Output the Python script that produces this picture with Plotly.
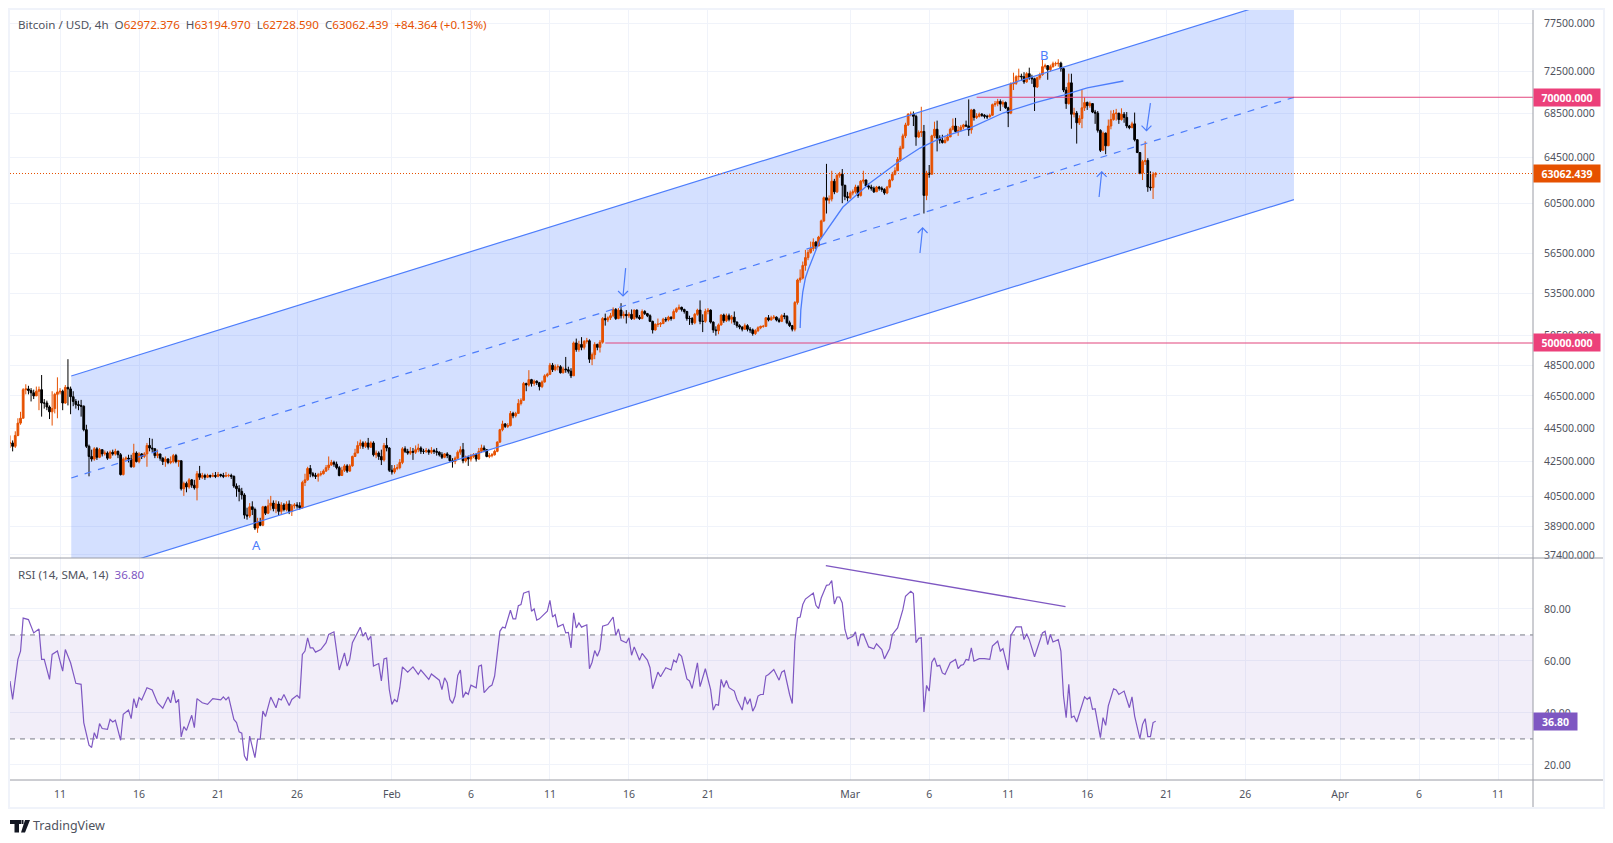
import math
import pandas as pd
import plotly.graph_objects as go

# 4h bars, one row per day. first bar is Jan 7 20:00, then Jan 8 00:00 onwards
bar_start = "2024-01-07 20:00"
closes = [43600,
    43400,44050,44800,45100,46900,46950, 46850,46700,46500,46800,46900,46050,
    46050,45800,45500,45700,46600,46750, 46800,46050,47050,46950,46450,46150,
    45950,45900,45850,44400,43400,42800, 42650,43250,42750,43200,42950,43000,
    42700,43050,42950,43100,42900,41750, 42650,42700,42650,42200,43000,42500,
    42950,42800,42950,43450,43300,43250, 42850,42950,42700,42500,42650,42450,
    42500,42850,42500,42550,40950,41250, 41050,41450,41150,41000,41800,41600,
    41700,41600,41700,41650,41700,41650, 41750,41700,41650,41700,41700,41650,
    41100,40950,40800,40600,39500,39450, 39950,39800,38800,39150,38950,39950,
    39600,40000,40150,39850,40100,39700, 40050,39800,40100,39700,40000,40050,
    40000,39900,41300,41450,42100,41800, 41700,41650,41750,41800,41950,42150,
    42300,42450,42350,42150,41700,42000, 42250,41950,42250,42800,43000,43450,
    43600,43400,43600,43350,43600,42900, 43000,42800,42600,43450,43300,42000,
    # feb
    41900,42100,42150,42450,43250,43100, 43000,43100,43050,43200,43300,43100,
    43100,43150,43050,43150,43100,43050, 42900,42750,42950,42850,42550,42500,
    42700,43050,43200,42550,42750,42650, 42800,42900,42650,43100,43300,43200,
    42800,42850,42900,43100,43650,44400, 44750,44600,44650,45400,45250,45400,
    46020,46220,47300,47200,47550,47300, 47450,47350,47100,47400,47800,47900,
    48500,48200,48400,48400,48000,48250, 48200,48100,47800,50000,49550,49900,
    49700,50100,50150,48900,49200,49900, 49700,50050,51700,51600,51750,51900,
    52350,51700,52300,51900,52000,51900, 52000,51700,52300,51800,51700,52200,
    52050,51900,51500,50900,51300,51300, 51350,51650,51600,51800,51700,52200,
    52400,52500,52350,52200,51700,51700, 51400,52000,52300,51500,51500,52200,
    52300,51450,50900,50850,51250,51950, 51550,51900,51650,51800,51450,51200,
    51100,50950,51200,50950,50900,50650, 50850,51050,51150,51150,51750,51600,
    51750,51800,51600,51500,51900,51850, 51400,51200,50950,52850,54500,54650,
    55600,56200,56600,56900,57400,57100, 57800,59100,61000,60800,60900,62400,
    61500,62900,63000,62050,61100,61000,
    # mar
    61400,61500,61900,61200,62400,62500, 62000,61900,61800,61500,61900,61800,
    61700,61400,61900,62500,63000,63300, 64300,65300,66400,67400,68400,68400,
    68200,66300,66700,66800,61200,63100, 63000,66400,67000,66200,66000,65800,
    66000,66300,67000,67300,66800,66900, 67200,67400,67300,66950,68800,68100,
    68200,68400,68300,68200,68150,68300, 69300,69400,69600,69350,69500,69000,
    68500,71300,71350,72000,72050,72000, 71500,72300,71900,71800,71000,71900,
    72200,73000,73100,72700,73000,73300, 73300,73350,72800,70700,69400,71400,
    68400,68500,67600,68000,69000,69500, 69200,69400,68600,68500,66900,65100,
    66650,65500,67300,67900,68450,68500, 67900,68400,68100,67300,67150,67500,
    66050,64900,63100,64100,64200,61900, 61850,62972.376,63062.439]

highs = [44050,
    43750,44300,45100,45500,47000,47250, 47150,47000,46900,47100,47100,47850,
    46300,46200,45900,46800,46700,47700, 47000,46900,47200,48900,47100,46800,
    46300,46200,46250,45900,44700,43500, 43200,43350,43350,43300,43200,43150,
    43100,43150,43200,43250,43150,43000, 42750,42800,42900,42900,43550,43100,
    43050,43000,43050,43600,43900,43850, 43300,43200,42950,42750,42800,42700,
    42800,42950,42950,42600,42550,41350, 41350,41550,41500,41450,41950,42250,
    41850,41800,41800,41750,41850,41900, 41900,41800,41850,41900,41800,41800,
    41700,41250,41150,41000,40700,39900, 40150,40250,39900,39350,39350,40000,
    40000,40350,40550,40300,40300,40250, 40200,40150,40250,40300,40100,40150,
    40200,40200,41400,41800,42200,42300, 41900,41850,41850,41950,42050,42300,
    42800,42600,42550,42500,42250,42200, 42350,42350,42350,42850,43250,43700,
    43800,43700,43700,43900,43700,43700, 43150,43100,43200,43600,43900,43350,
    42300,42300,42350,42650,43350,43400, 43250,43350,43300,43450,43550,43400,
    43250,43300,43250,43350,43250,43300, 43100,43050,43000,43050,42900,42700,
    42800,43150,43400,43600,42850,42850, 42950,43000,43000,43300,43500,43450,
    43200,43000,43000,43200,43700,44450, 44950,44800,44800,45550,45500,45500,
    46300,46350,47400,47350,48170,47600, 47550,47500,47400,47500,47900,48000,
    48650,48650,48550,48550,48500,48400, 49050,48400,48300,50100,50300,50150,
    50400,50200,50350,50250,49350,50050, 49950,50200,51800,52050,51850,52100,
    52500,52450,52450,52800,52200,52300, 52150,52350,52350,52350,51950,52350,
    52300,52100,52000,51550,51350,51700, 51450,51750,51800,51900,51850,52350,
    52500,52700,52550,52400,52250,51900, 51800,52100,52400,53000,52000,52400,
    52450,52350,51500,51150,51350,52000, 52050,52050,52050,51950,52200,51500,
    51300,51150,51350,51300,51100,51000, 50950,51150,51200,51250,51800,51950,
    51900,51950,51850,51750,52000,52100, 51950,51550,51250,52950,54600,55300,
    55900,56800,56800,57450,57700,57500, 57900,59200,61100,63900,61200,63300,
    62600,63050,63200,63450,62100,61500,
    61600,61700,62100,62050,62500,63300, 62550,62200,62100,61950,62000,62000,
    61950,61800,62000,62600,63200,63600, 64500,65500,66600,67600,68500,68650,
    68650,68350,66900,69100,67400,63300, 63800,66500,67700,67800,66450,66500,
    66350,66600,67150,68000,68050,67300, 67400,67500,67800,69800,68900,68900,
    68500,68550,68500,68400,68350,68450, 69400,69650,69850,69800,69700,69600,
    69100,71450,72400,72150,72800,72300, 72450,72450,72900,72200,71900,72000,
    72400,73700,73300,73150,73200,73500, 73500,73750,73500,72900,71000,72300,
    72300,69000,68700,68300,70800,70000, 69600,69600,69450,68800,68700,67000,
    66800,66700,67900,68750,68800,68900, 68500,68950,68600,68600,67400,67700,
    68550,66100,64900,64250,65900,64400, 63250,63200,63194.970]

lows = [43300,
    43100,43300,44000,44700,45100,46600, 46600,46150,46300,46500,45600,45200,
    45700,45600,45050,44650,45400,45100, 46600,45600,46000,45900,45350,45850,
    45700,45600,45200,44300,43300,41650, 42500,42550,42600,42700,42800,42850,
    42600,42700,42850,42850,42700,41700, 41700,42550,42450,42150,42150,42450,
    42400,42650,42700,42200,43100,43050, 42700,42700,42550,42300,42200,42350,
    42350,42400,42400,42200,40850,40550, 40750,40950,41000,40900,40300,41450,
    41500,41450,41550,41550,41600,41550, 41600,41600,41550,41600,41600,41500,
    41000,40500,40250,40350,39300,39250, 39350,39500,38700,38550,38900,38900,
    39500,39550,39750,39700,39600,39500, 39550,39700,39700,39550,39450,39850,
    39850,39800,39850,41100,41400,41600, 41600,41500,41350,41650,41750,41900,
    42000,42250,42200,42050,41650,41700, 41900,41850,41900,42200,42800,43000,
    43250,43250,43300,43200,43300,42800, 42700,42600,42300,42500,43100,41900,
    41750,41800,42000,42050,42350,43000, 42900,42900,42600,42950,43050,42950,
    42950,43000,42900,42950,42950,42850, 42800,42650,42700,42700,42500,42150,
    42350,42650,42900,42400,42450,42250, 42500,42700,42500,42600,43000,43050,
    42750,42700,42750,42850,43050,43600, 44300,44500,44500,44600,45100,45150,
    45400,45900,46200,46800,47100,47100, 47150,47200,46850,47000,47350,47700,
    47850,48050,48100,48150,47950,47950, 48000,47950,47650,47800,49400,49400,
    49500,49550,49950,48650,48500,48900, 49500,49350,49950,51200,51450,51600,
    51800,51600,51650,51700,51700,51350, 51750,51600,51600,51700,51600,51650,
    51950,51800,51450,50650,50850,51100, 51100,51300,51450,51500,51550,51650,
    52100,52300,52200,52050,51550,51250, 51250,51300,51900,51300,50750,51400,
    52000,51350,50700,50500,50600,51200, 51400,51450,51500,51350,51250,51050,
    50950,50800,50900,50800,50700,50500, 50550,50750,50950,51050,51100,51500,
    51550,51650,51500,51400,51450,51650, 51300,51100,50800,50800,52700,54300,
    54550,55200,56000,56500,56700,56850, 57100,57700,59000,59700,60500,60700,
    61300,61400,62700,60550,60800,60700,
    60900,61200,61350,61000,61100,62200, 61900,61700,61600,61400,61500,61600,
    61500,61250,61300,61800,62400,62900, 63300,64100,65200,66200,67300,68200,
    67300,65500,66200,66300,59700,60800, 62700,63000,66200,65000,65700,65700,
    65700,65900,66300,66900,66700,66400, 66800,67000,67200,66400,66600,67800,
    67950,68100,68150,68000,67950,68100, 68250,69100,69150,68700,69100,68900,
    67200,68400,70700,71200,71600,71600, 71300,71400,71700,71300,68700,70900,
    71700,72100,72800,71700,72500,72900, 73050,73000,72500,70500,68900,69300,
    67050,68100,65700,67400,67100,68700, 68800,69000,68500,67500,66700,64950,
    65300,64750,65500,67000,67800,67800, 67500,67800,67600,67100,67000,67100,
    65900,64850,63000,62500,63800,61500, 61600,60900,62728.590]

# rsi vertices as bar number, value
rsi_bars = [0,1,3,4,5,7,9,11,12,13,15,16,18,20,21,23,25,27,28,30,31,32,33,34,35,37,38,39,40,42,43,45,46,47,48,49,50,52,54,56,58,60,61,62,63,64,65,66,67,69,70,71,73,75,77,80,81,82,83,85,86,87,88,89,90,91,93,94,95,96,97,99,101,102,103,104,106,107,109,110,111,112,113,114,115,116,118,120,121,123,125,127,128,129,130,133,134,135,136,137,138,140,141,142,143,144,145,146,147,148,149,151,153,155,156,159,160,163,164,165,166,167,168,169,170,171,172,173,174,175,177,178,179,180,182,183,184,186,187,188,190,191,192,193,194,195,197,198,199,200,201,204,205,206,207,208,
    210,211,212,213,214,215,216,217,219,220,221,222,223,224,225,227,229,230,231,232,234,235,236,237,239,240,242,243,244,246,247,249,251,252,253,254,255,257,258,259,261,262,264,266,267,268,269,270,271,272,273,275,276,278,279,280,281,282,283,284,285,286,287,288,290,292,293,294,296,297,298,299,300,301,302,305,306,307,308,310,311,312,313,314,315,316,317,318,320,321,322,323,324,326,328,329,331,332,334,335,337,339,340,342,343,344,345,346,347,348,349,350,351,352,353,354,355,357,359,360,361,362,363,364,365,366,368,370,372,373,375,376,377,379,380,382,384,385,386,387,389,390,392,393,394,395,396,398,399,400,401,402,403,404,405,408,409,410,411,412,414,415,416,417,419,420,421,423,425,426,427,429,430,431,432,433,434,435]
rsi_vals = [52.3,45.2,60.6,63.8,76.5,75.9,70.8,72.3,60.6,60.6,52.9,62.5,63.8,56.1,64.4,59.3,51.4,51,36.3,27.6,26.7,32.4,30.1,35.9,34,33.7,37.5,36.5,37.2,29.5,39.5,41.1,37.8,45.5,42,45.9,45,49.7,48.8,43.9,41.8,46.1,43.9,48.7,43.9,45.2,30.8,34.7,33.3,39.1,34.3,45.5,43.9,43.3,45.5,45,46.2,45,46.2,37.5,36.3,32.7,32.2,23.5,21.6,31.1,22.8,29.9,29.9,40.7,38.6,46.1,42,45.5,45,47.1,42.9,45.2,46.8,45.6,62.5,63.8,68.9,65,65,63.4,64.4,67,70.2,71.2,56.5,63.1,58,60.6,67,73,69.5,71,68,69.5,58,59,52.3,60.8,61.1,49,43.3,45.2,44.2,49.7,57.7,55.7,57.7,54.8,56.5,52.9,55,52.6,49,53.5,51.6,45.2,43.7,46.5,54.4,56.5,45.9,48,47.1,50.7,49.7,58,58.4,47.8,50.1,50.7,54.2,71.4,73,72.7,79.5,76.2,76.2,81.3,81.7,86.1,86.8,79.1,80,75.7,76.2,79.1,83.3,76.9,77.8,73.1,
    74.1,70.8,71,65,78.5,72.7,74.6,73,73.9,57,59.5,64,61.8,64.4,73.4,74,76.9,69.8,72.3,67.9,67,68.9,62.2,65.4,60.3,62.9,60.3,57.4,49.3,55.7,53.9,57.4,56.5,60.3,59.5,62.7,61.8,53.1,52.3,49.4,59.3,50.1,57,49.1,41.1,43.3,43,52.9,49.9,52.5,49.7,48.4,45.2,41.1,46.2,43.3,45.5,40.7,42.7,46.5,47.1,47.1,54.2,54.8,56.7,52.6,55.7,56.3,47.1,43.6,67.6,76.5,76.9,81.7,83.8,86.1,81.4,80.1,84.2,89.1,89.3,90.9,81.9,84.6,84.6,82.3,72.1,68.5,69.5,71.2,65.7,70.2,70.4,65.4,64.7,66.6,64.4,60.8,64.8,70.2,72.7,79.7,84.9,86.8,85.9,67,68.7,68.9,40.4,50.6,48.4,59.5,61.2,58,58.3,55.4,54.8,59.3,60.6,57,58.3,58.6,60.6,60.3,65,59.9,60.9,60.9,60.6,65.7,67.6,63.8,64.7,56.5,69.8,73.1,73.1,68.2,70.5,68.2,61.6,64.4,70.8,71.4,66.3,70.2,67.3,68.2,63.8,46.5,38.2,51,38.2,38.8,36.5,46.2,45.2,46.2,41.4,41.6,30.5,38.2,35.2,42.7,49.3,48.8,47.1,48.4,42,46.2,38.8,30.1,35.6,37.8,30.9,30.9,36.3,36.8]

price_ticks = [77500,72500,68500,64500,60500,56500,53500,50500,48500,46500,44500,42500,40500,38900,37400]
rsi_ticks = [80,60,40,20]
x_ticks = ["2024-01-11","2024-01-16","2024-01-21","2024-01-26","2024-02-01","2024-02-06","2024-02-11","2024-02-16","2024-02-21","2024-03-01","2024-03-06","2024-03-11","2024-03-16","2024-03-21","2024-03-26","2024-04-01","2024-04-06","2024-04-11"]
x_labels = ["11","16","21","26","Feb","6","11","16","21","Mar","6","11","16","21","26","Apr","6","11"]

# drawings
channel_x = ["2024-01-11 17:00","2024-03-29 02:00"]
channel_top = [47790,80475]
channel_mid = [41557,70000]
channel_bot = [36137,60850]
arc_x = ["2024-02-26 20:00","2024-02-26 21:00","2024-02-27 00:00","2024-02-27 04:00","2024-02-27 08:00","2024-02-28 02:00","2024-02-29 13:00","2024-03-02 06:00","2024-03-03 23:00","2024-03-05 10:00","2024-03-06 21:00","2024-03-08 14:00","2024-03-10 16:00","2024-03-12 20:00","2024-03-14 12:00","2024-03-16 00:00","2024-03-18 07:00"]
arc_y = [51030,52300,53610,54650,55250,57570,60230,62250,63980,65300,66300,67110,68510,69550,70220,70900,71580]
arrows = [("2024-02-15 19:00",55400,"2024-02-15 15:00",53320),
          ("2024-03-05 10:00",56560,"2024-03-05 14:00",58530),
          ("2024-03-16 18:00",61060,"2024-03-16 22:00",63210),
          ("2024-03-20 00:00",69450,"2024-03-19 18:00",66870)]
rsi_trend_x = ["2024-02-28 11:00","2024-03-14 15:00"]
rsi_trend_y = [96.7,80.9]

last_close = 63062.439
x0, x1 = "2024-01-07 20:00", "2024-04-13 05:00"
orange = "#e65100"
blue = "#4d7dfb"
pink = "#e2447d"
purple = "#7e57c2"
text_col = "#50535e"

bars = pd.date_range(bar_start, periods=len(closes), freq="4h")
opens = [closes[0]] + closes[:-1]
highs = [max(h, o, c) for h, o, c in zip(highs, opens, closes)]
lows = [min(l, o, c) for l, o, c in zip(lows, opens, closes)]

fig = go.Figure()

# channel fill sits on the base axis so the candles stay on top of it
fig.add_scatter(x=[channel_x[0], channel_x[1], channel_x[1], channel_x[0], channel_x[0]],
    y=[channel_top[0], channel_top[1], channel_bot[1], channel_bot[0], channel_top[0]],
    mode="lines", line=dict(width=0), fill="toself", fillcolor="rgba(41,98,255,0.2)",
    yaxis="y", hoverinfo="skip")

fig.add_candlestick(x=bars, open=opens, high=highs, low=lows, close=closes, yaxis="y3",
    increasing=dict(line=dict(color=orange, width=1), fillcolor=orange),
    decreasing=dict(line=dict(color="#000000", width=1), fillcolor="#000000"))

def draw(x, y, color=blue, width=1.2, dash="solid", yaxis="y4"):
    fig.add_scatter(x=x, y=y, mode="lines", line=dict(color=color, width=width, dash=dash),
        yaxis=yaxis, hoverinfo="skip")

draw(channel_x, channel_top)
draw(channel_x, channel_bot)
draw(channel_x, channel_mid, dash="7px,7px")
draw(arc_x, arc_y, width=1.3)
draw(["2024-03-09 00:00", x1], [70000,70000], color=pink, width=1.1)
draw(["2024-02-14 12:00", x1], [50000,50000], color=pink, width=1.1)
draw([x0, x1], [last_close,last_close], color=orange, width=1, dash="1px,2px")

# arrows, the chevron wings are about 7h wide and 0.7% tall
for tail_x, tail_y, tip_x, tip_y in arrows:
    tip = pd.Timestamp(tip_x)
    wing = pd.Timedelta(hours=7.5)
    k = 1.0069 if tip_y < tail_y else 1 / 1.0069
    draw([tail_x, tip_x, None, tip - wing, tip, tip + wing],
         [tail_y, tip_y, None, tip_y * k, tip_y, tip_y * k], width=1.2)

# rsi pane
rsi_x = [bars[i] for i in rsi_bars]
fig.add_scatter(x=[x0, x1, x1, x0, x0], y=[70,70,30,30,70], mode="lines", line=dict(width=0),
    fill="toself", fillcolor="rgba(126,87,194,0.1)", yaxis="y2", hoverinfo="skip")
draw([x0, x1], [70,70], color="#787b86", width=1, dash="5px,5px", yaxis="y2")
draw([x0, x1], [30,30], color="#787b86", width=1, dash="5px,5px", yaxis="y2")
draw(rsi_x, rsi_vals, color=purple, width=1.2, yaxis="y2")
draw(rsi_trend_x, rsi_trend_y, color=purple, width=1.3, yaxis="y2")

# helpers for pixel placed furniture (labels, frame, logo)
def px(v):
    return (v - 10) / 1523
def py(v):
    return (780 - v) / 770

def label(text, x, y, size=11, color=text_col, anchor="left"):
    fig.add_annotation(text=text, x=px(x), y=py(y), xref="paper", yref="paper", showarrow=False,
        xanchor=anchor, yanchor="middle", font=dict(size=size, color=color))

def price_tag(text, value, color, yref, width):
    fig.add_annotation(text="<b>"+text+"</b>", x=1, y=value, xref="paper", yref=yref, showarrow=False,
        xanchor="left", yanchor="middle", align="center", width=width, height=17, bgcolor=color,
        borderpad=0, font=dict(size=10.5, color="white"))

o = '<span style="color:%s">%%s</span>' % orange
label("Bitcoin / USD, 4h  O" + o % "62972.376" + "  H" + o % "63194.970" + "  L" + o % "62728.590"
      + "  C" + o % "63062.439" + "  " + o % "+84.364 (+0.13%)", 16, 25, size=11.6)
label('RSI (14, SMA, 14)  <span style="color:%s">36.80</span>' % purple, 16, 574, size=11.6)
label("TradingView", 31, 826, size=12.5, color="#50535e")

price_tag("70000.000", math.log10(70000), "#ec407a", "y", 66)
price_tag("63062.439", math.log10(last_close), orange, "y", 66)
price_tag("50000.000", math.log10(50000), "#ec407a", "y", 66)
price_tag("36.80", 36.8, purple, "y2", 43)

fig.add_annotation(text="A", x="2024-01-23 10:00", y=math.log10(37910), yref="y", showarrow=False,
    font=dict(size=13, color=blue))
fig.add_annotation(text="B", x="2024-03-13 07:00", y=math.log10(74170), yref="y", showarrow=False,
    font=dict(size=13, color=blue))

frame_line = dict(color="#f0f3fa", width=2)
sep_line = dict(color="#9a9ca5", width=1)
shapes = [
    dict(type="rect", xref="paper", yref="paper", x0=px(9), x1=px(1604), y0=py(9), y1=py(808), line=frame_line),
    dict(type="line", xref="paper", yref="paper", x0=px(10), x1=px(1603), y0=py(558), y1=py(558), line=sep_line),
    dict(type="line", xref="paper", yref="paper", x0=px(10), x1=px(1603), y0=py(780), y1=py(780), line=sep_line),
    dict(type="line", xref="paper", yref="paper", x0=px(1533), x1=px(1533), y0=py(10), y1=py(807), line=sep_line),
]
# tradingview logo
logo = [[(10,820),(21,820),(21,824),(19,824),(19,832.5),(14.5,832.5),(14.5,824),(10,824)],
        [(21.5,820),(23.5,820),(23.5,824),(21.5,824)],
        [(25,820),(30,820),(25,832.5),(21,832.5)]]
for poly in logo:
    path = "M" + " L".join("%f,%f" % (px(a), py(b)) for a, b in poly) + " Z"
    shapes.append(dict(type="path", xref="paper", yref="paper", path=path,
        fillcolor="#131722", line=dict(width=0)))

price_range = [math.log10(77500) + 13 / 1681, math.log10(77500) - 535 / 1681]
price_axis = dict(type="log", range=price_range[::-1], domain=[222 / 770, 1], side="right",
    anchor="x", fixedrange=True)
overlay = dict(type="log", range=price_range[::-1], overlaying="y", side="right", anchor="x",
    showgrid=False, showticklabels=False, zeroline=False)

fig.update_layout(
    width=1613, height=843, showlegend=False,
    paper_bgcolor="white", plot_bgcolor="white",
    margin=dict(l=10, r=80, t=10, b=63),
    font=dict(family="Noto Sans", size=10.5, color=text_col),
    shapes=shapes,
    boxgap=0.05,
    xaxis=dict(type="date", range=[x0, x1], anchor="y2", tickmode="array", tickvals=x_ticks,
        ticktext=x_labels, showgrid=True, gridcolor="#f0f3fa", gridwidth=1, zeroline=False,
        rangeslider=dict(visible=False), ticks="", ticklabelstandoff=6, tickangle=0),
    yaxis=dict(price_axis, tickmode="array", tickvals=price_ticks,
        ticktext=["%d.000" % v for v in price_ticks], showgrid=True, gridcolor="#f0f3fa",
        ticks="", ticklabelstandoff=10),
    yaxis2=dict(range=[14.2, 99.6], domain=[0, 222 / 770], side="right", anchor="x",
        tickmode="array", tickvals=rsi_ticks, ticktext=["%d.00" % v for v in rsi_ticks],
        showgrid=True, gridcolor="#f0f3fa", zeroline=False, ticks="", ticklabelstandoff=10),
    yaxis3=overlay,
    yaxis4=overlay,
)

fig.write_html("out.html", config=dict(displayModeBar=False),
    post_script="document.body.style.margin='0'")
